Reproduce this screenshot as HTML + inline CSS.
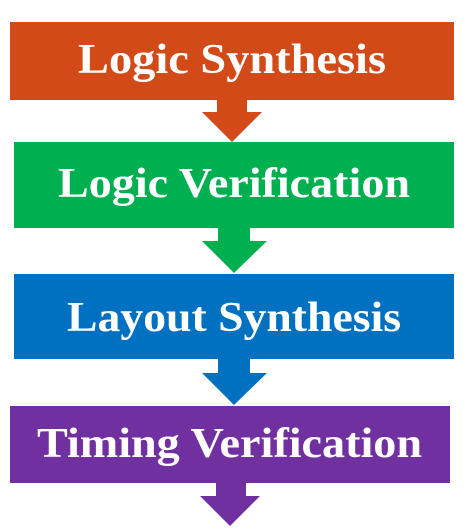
<!DOCTYPE html>
<html><head><meta charset="utf-8"><style>html,body{margin:0;padding:0;background:#fff}svg{display:block}</style></head>
<body>
<svg width="468" height="531" viewBox="0 0 468 531" xmlns="http://www.w3.org/2000/svg">
<g font-family="Liberation Serif, serif" font-weight="bold" font-size="42" fill="#fff">
<rect x="10" y="22" width="444" height="78" fill="#D24A18"/>
<polygon points="217,100 247,100 247,112 262,112 232,142 202,112 217,112" fill="#D24A18"/>
<text x="78" y="73" textLength="308" lengthAdjust="spacingAndGlyphs">Logic Synthesis</text>

<rect x="14" y="142" width="440" height="86" fill="#00AF50"/>
<polygon points="218,228 250,228 250,241 267,241 234,273 202,241 218,241" fill="#00AF50"/>
<text x="58" y="197" textLength="352" lengthAdjust="spacingAndGlyphs">Logic Verification</text>

<rect x="14" y="274" width="440" height="85" fill="#0070C0"/>
<polygon points="218,359 250,359 250,373 267,373 234,405 202,373 218,373" fill="#0070C0"/>
<text x="67" y="331" textLength="334" lengthAdjust="spacingAndGlyphs">Layout Synthesis</text>

<rect x="10" y="406" width="440" height="77" fill="#7030A0"/>
<polygon points="216,483 246,483 246,496 260,496 230,526 200,496 216,496" fill="#7030A0"/>
<text x="37" y="457" textLength="385" lengthAdjust="spacingAndGlyphs">Timing Verification</text>
</g>
</svg>
</body></html>
